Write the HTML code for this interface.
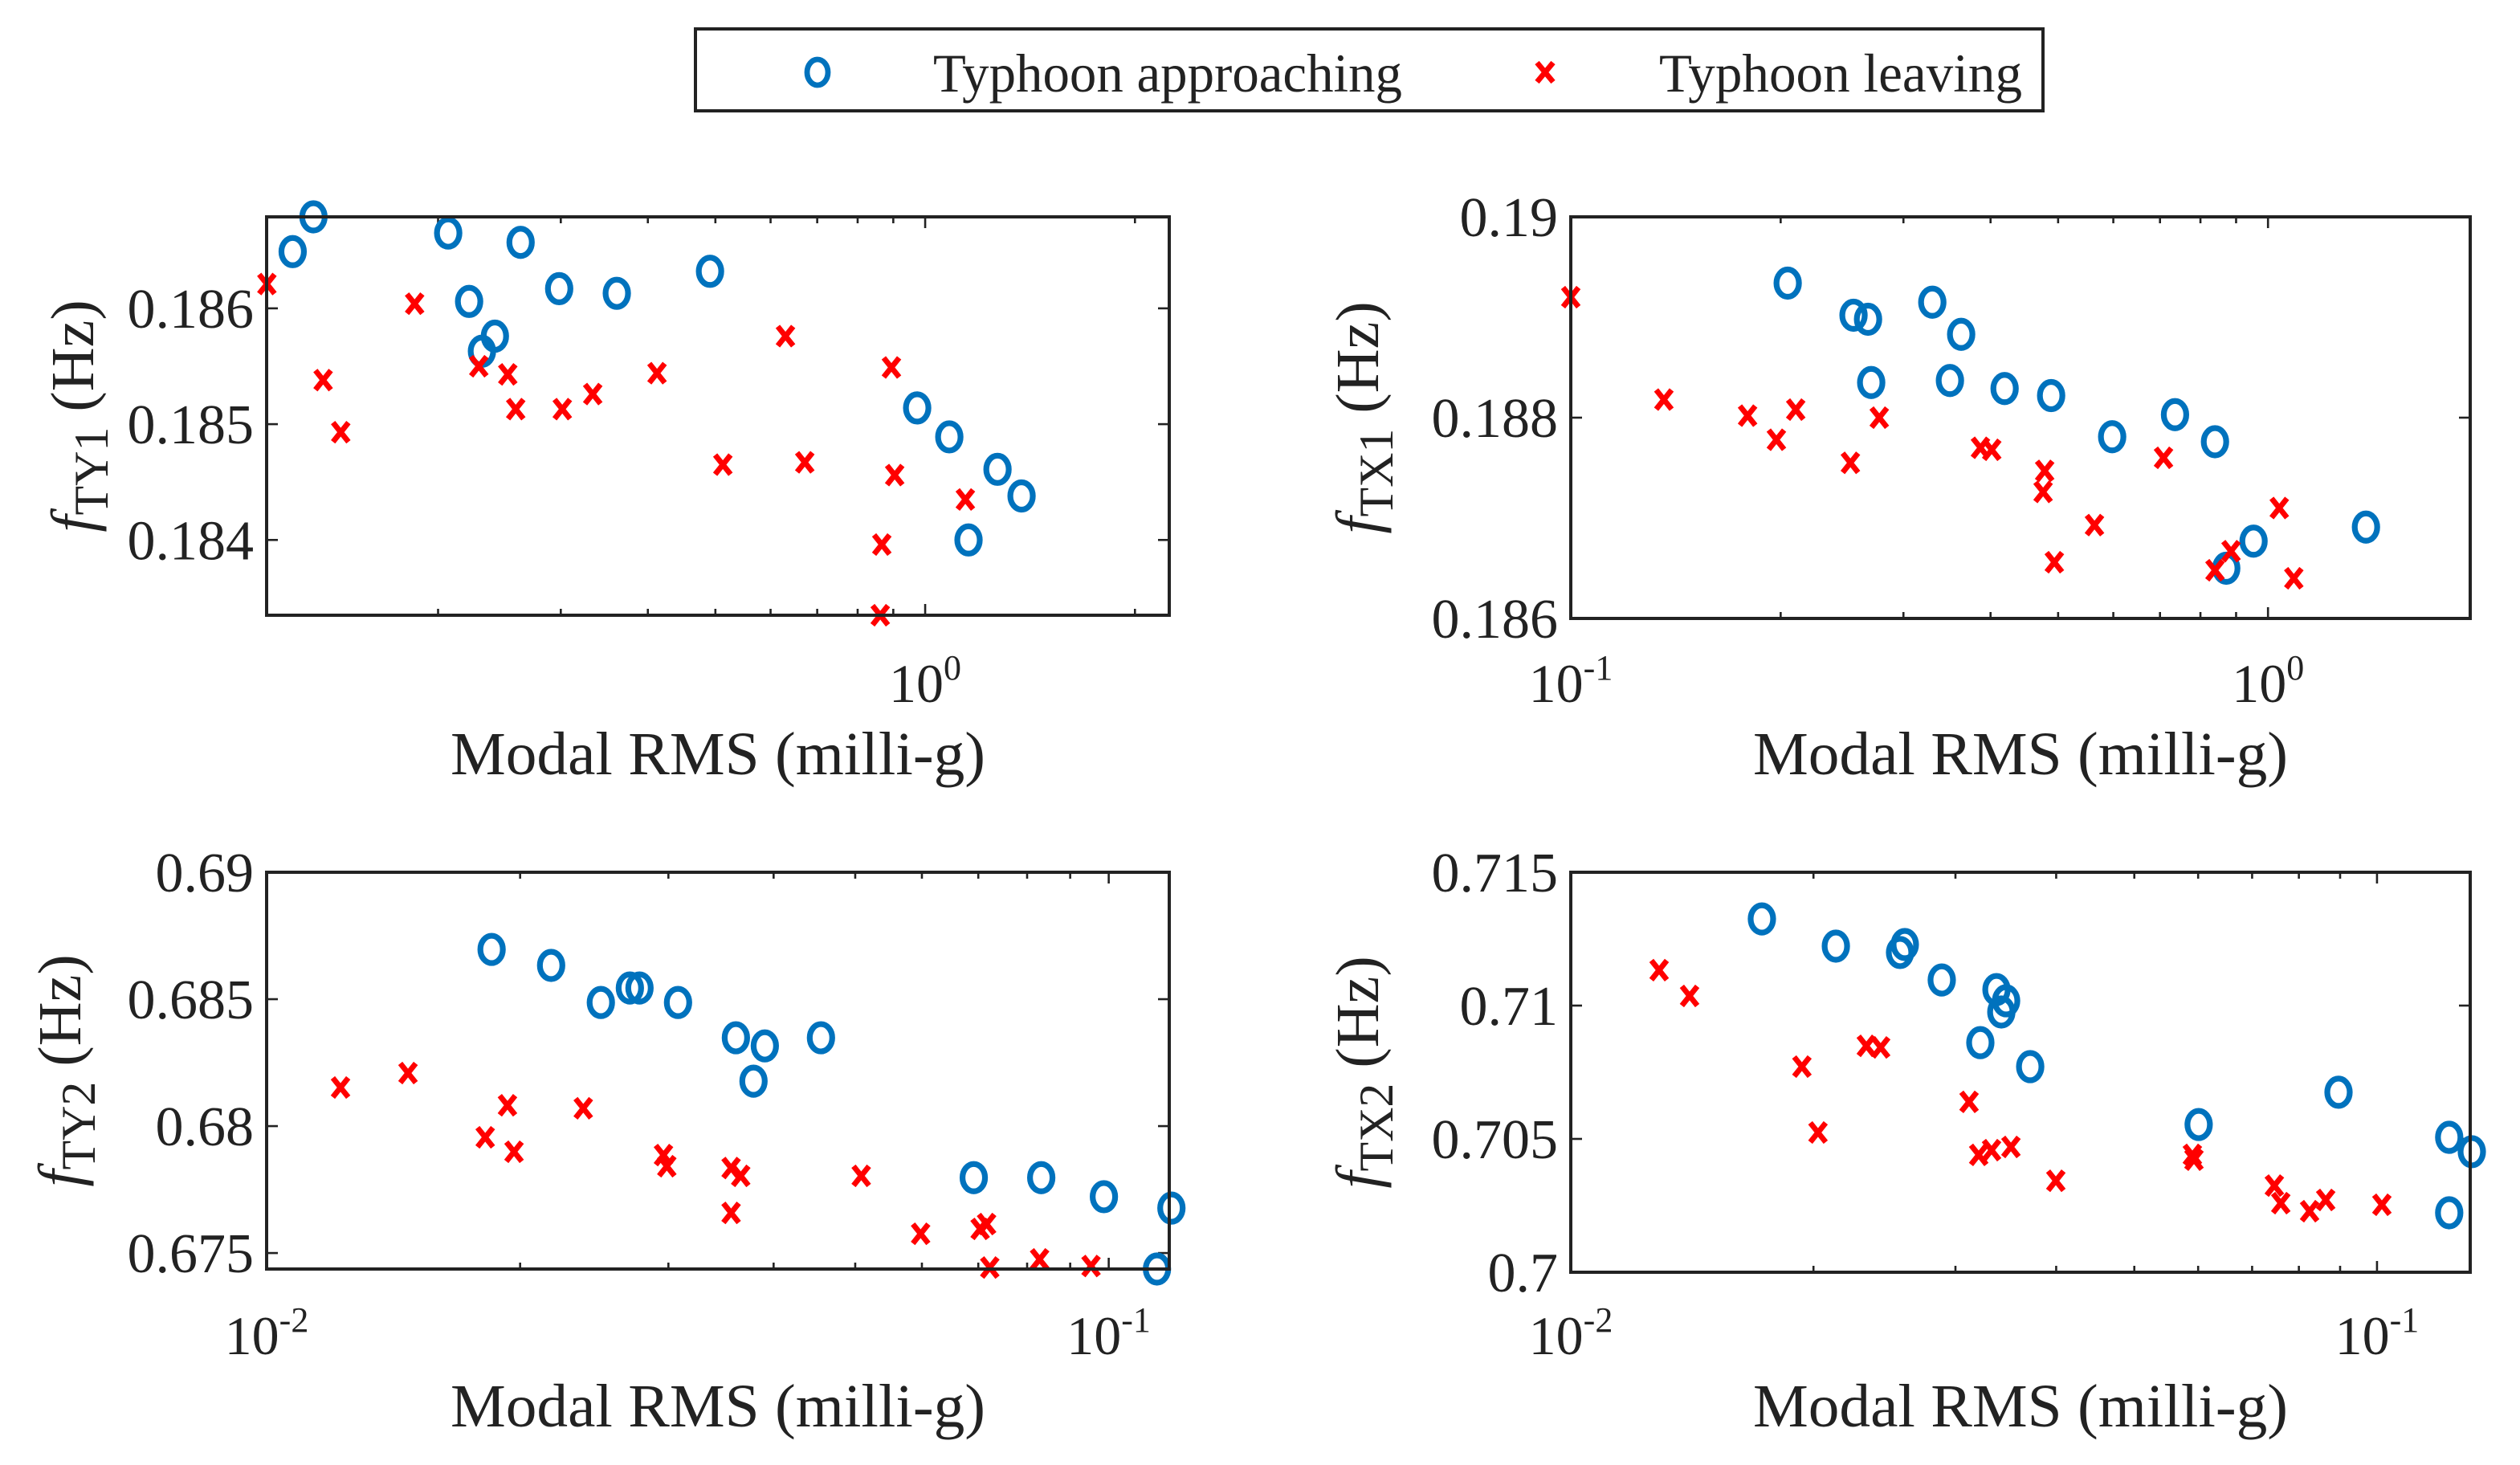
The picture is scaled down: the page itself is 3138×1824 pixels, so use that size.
<!DOCTYPE html>
<html><head><meta charset="utf-8"><style>
html,body{margin:0;padding:0;background:#fff;}
svg{display:block;}
text{font-family:"Liberation Serif",serif;fill:#222;}
</style></head><body>
<svg id="fig" width="3138" height="1824" viewBox="0 0 1569 912" xmlns="http://www.w3.org/2000/svg">
<g>
<rect x="433" y="18" width="839" height="51" fill="#fff" stroke="#222" stroke-width="2"/>
<ellipse cx="509" cy="45" rx="6.5" ry="8" fill="none" stroke="#0072BD" stroke-width="3.4"/>
<text x="581" y="57" font-size="34" textLength="292" lengthAdjust="spacingAndGlyphs">Typhoon approaching</text>
<g stroke="#f00" stroke-width="3.4"><line x1="957" y1="39" x2="967" y2="51"/><line x1="967" y1="39" x2="957" y2="51"/></g>
<text x="1033" y="57" font-size="34" textLength="226" lengthAdjust="spacingAndGlyphs">Typhoon leaving</text>
</g>
</svg>
<script>
// Panel 1 data (f_TY1)
const p1ApprX=[0.1237,0.1325,0.2068,0.2216,0.2312,0.2413,0.2627,0.2984,0.3610,0.4912,0.9739,1.083,1.270,1.375,1.154];
const p1ApprY=[0.18649,0.18679,0.18665,0.18606,0.18563,0.18576,0.18657,0.18617,0.18613,0.18632,0.18514,0.18489,0.18461,0.18438,0.18400];
const p1LeavX=[0.1136,0.1368,0.1450,0.1851,0.2288,0.2518,0.2585,0.3015,0.3334,0.4123,0.5125,0.6303,0.6718,0.8621,0.8945,0.9042,0.8665,1.142];
const p1LeavY=[0.18621,0.18538,0.18493,0.18604,0.18550,0.18543,0.18513,0.18513,0.18526,0.18544,0.18465,0.18576,0.18467,0.18335,0.18549,0.18456,0.18396,0.18435];
const p1YTicks=[0.184,0.185,0.186];
const p1YTickLabels=["0.184","0.185","0.186"];
// Panel 2 data (f_TX1)
const p2ApprX=[0.2047,0.2544,0.2669,0.2697,0.3300,0.3498,0.3630,0.4190,0.4886,0.5977,0.7356,0.8394,0.8712,0.9534,1.382];
const p2ApprY=[0.18934,0.18902,0.18898,0.18835,0.18915,0.18837,0.18883,0.18829,0.18822,0.18781,0.18803,0.18776,0.18650,0.18677,0.18691];
const p2LeavX=[0.1,0.1360,0.1793,0.1972,0.2102,0.2518,0.2770,0.3869,0.4016,0.4783,0.4758,0.4938,0.5638,0.7082,0.8394,0.8851,1.038,1.089];
const p2LeavY=[0.1892,0.18818,0.18802,0.18778,0.18808,0.18755,0.18800,0.18770,0.18768,0.18747,0.18726,0.18656,0.18693,0.18760,0.18648,0.18667,0.18710,0.1864];
const p2YTicks=[0.186,0.188,0.19];
const p2YTickLabels=["0.186","0.188","0.19"];
// Panel 3 data (f_TY2)
const p3ApprX=[0.01850,0.02177,0.02494,0.02700,0.02772,0.03080,0.03608,0.03905,0.03786,0.04553,0.06914,0.08315,0.09869,0.1187,0.1141];
const p3ApprY=[0.68696,0.68633,0.68487,0.68544,0.68544,0.68487,0.68348,0.68316,0.68177,0.68348,0.67797,0.67797,0.67722,0.67677,0.67437];
const p3LeavX=[0.01224,0.01472,0.01818,0.01932,0.01967,0.02377,0.02960,0.02987,0.03561,0.03656,0.03561,0.05083,0.05979,0.07036,0.07161,0.07224,0.08278,0.09528];
const p3LeavY=[0.68152,0.68209,0.67956,0.68082,0.67899,0.68070,0.67886,0.67842,0.67835,0.67804,0.67658,0.67804,0.67576,0.67595,0.67614,0.67443,0.67475,0.67449];
const p3YTicks=[0.675,0.68,0.685,0.69];
const p3YTickLabels=["0.675","0.68","0.685","0.69"];
// Panel 4 data (f_TX2)
const p4ApprX=[0.01726,0.02132,0.02561,0.02596,0.02885,0.03221,0.03373,0.03420,0.03467,0.03714,0.06009,0.08959,0.1229,0.1311,0.1229];
const p4ApprY=[0.71325,0.71223,0.71199,0.71229,0.71096,0.70861,0.71060,0.70976,0.71018,0.70771,0.70554,0.70675,0.70506,0.70452,0.70223];
const p4LeavX=[0.01287,0.01404,0.01935,0.02026,0.02326,0.02423,0.03119,0.03206,0.03326,0.03515,0.03996,0.05902,0.05929,0.07459,0.07597,0.08249,0.08637,0.1014];
const p4LeavY=[0.71133,0.71036,0.70771,0.70524,0.70849,0.70843,0.70639,0.7044,0.70458,0.7047,0.70343,0.7044,0.70422,0.70325,0.70259,0.70229,0.70271,0.70253];
const p4YTicks=[0.7,0.705,0.71,0.715];
const p4YTickLabels=["0.7","0.705","0.71","0.715"];

const NS="http://www.w3.org/2000/svg";
const svg=document.getElementById('fig');
function mk(tag,attrs,parent){const e=document.createElementNS(NS,tag);for(const k in attrs)e.setAttribute(k,attrs[k]);(parent||svg).appendChild(e);return e;}

function panel(cfg){
  const g=mk('g',{});
  
  
  const L=cfg.box[0],T=cfg.box[1],R=cfg.box[2],B=cfg.box[3];
  const lx0=Math.log10(cfg.xmin),lx1=Math.log10(cfg.xmax);
  const sx=v=>L+(Math.log10(v)-lx0)/(lx1-lx0)*(R-L);
  const sy=v=>B-(v-cfg.ymin)/(cfg.ymax-cfg.ymin)*(B-T);
  const bg=mk('rect',{x:L,y:T,width:R-L,height:B-T,fill:'#fff',stroke:'none'},g);
  
  
  const tk=mk('g',{stroke:'#222','stroke-width':1.3},g);
  
  
  for(let d=Math.floor(lx0);d<=Math.ceil(lx1);d++){
    for(let m=1;m<10;m++){
      const v=m*Math.pow(10,d);
      if(v<cfg.xmin*0.999||v>cfg.xmax*1.001)continue;
      const x=sx(v);const len=m===1?7:4;
      mk('line',{x1:x,y1:B,x2:x,y2:B-len},tk);
      mk('line',{x1:x,y1:T,x2:x,y2:T+len},tk);
      if(m===1){
        const t=mk('text',{x:x,y:cfg.xLabY,'font-size':34,'text-anchor':'middle',stroke:'none'},g);
        
        
        const a=mk('tspan',{},t);a.textContent='10';
        const b=mk('tspan',{dy:-14,'font-size':22},t);b.textContent=String(d);
      }
    }
  }
  cfg.yt.forEach((v,i)=>{
    const y=sy(v);
    mk('line',{x1:L,y1:y,x2:L+7,y2:y},tk);
    mk('line',{x1:R,y1:y,x2:R-7,y2:y},tk);
    const t=mk('text',{x:L-8,y:y+12,'font-size':35,'text-anchor':'end'},g);
    
    
    t.textContent=cfg.ytl[i];
  });
  const sa=mk('g',{},g);
  
  
  cfg.ax.forEach((v,i)=>{
    const c=mk('ellipse',{cx:sx(v),cy:sy(cfg.ay[i]),rx:7,ry:8.5,fill:'none',stroke:'#0072BD','stroke-width':3.6},sa);
    
    
  });
  const sl=mk('g',{stroke:'#f00','stroke-width':3.4},g);
  
  
  cfg.lx.forEach((v,i)=>{
    const x=sx(v),y=sy(cfg.ly[i]);
    const p=mk('path',{d:`M${x-4.8},${y-6}L${x+4.8},${y+6}M${x+4.8},${y-6}L${x-4.8},${y+6}`},sl);
    
    
  });
  const fr=mk('rect',{x:L,y:T,width:R-L,height:B-T,fill:'none',stroke:'#222','stroke-width':2},g);
  
  
  const xl=mk('text',{x:(cfg.xLabX),y:cfg.xTitleY,'font-size':38,'text-anchor':'middle',textLength:333,lengthAdjust:'spacingAndGlyphs'},g);
  
  
  xl.textContent='Modal RMS (milli-g)';
  const yl=mk('text',{x:0,y:0,'font-size':38,'text-anchor':'middle',transform:`translate(${cfg.yTitleX},${(T+B)/2}) rotate(-90)`},g);
  
  
  const f=mk('tspan',{'font-style':'italic'},yl);f.textContent='f';
  const s=mk('tspan',{'font-size':30,dy:9},yl);s.textContent=cfg.sub;
  const h=mk('tspan',{dy:-9},yl);h.textContent=' (Hz)';
}

panel({name:'panel-fty1',box:[166,135,728,383],xmin:0.1135,xmax:2.24,ymin:0.18335,ymax:0.18679,yt:p1YTicks,ytl:p1YTickLabels,ax:p1ApprX,ay:p1ApprY,lx:p1LeavX,ly:p1LeavY,xLabY:437,xTitleY:482,xLabX:447,yTitleX:58,sub:'TY1'});
panel({name:'panel-ftx1',box:[978,135,1538,385],xmin:0.1,xmax:1.95,ymin:0.186,ymax:0.19,yt:p2YTicks,ytl:p2YTickLabels,ax:p2ApprX,ay:p2ApprY,lx:p2LeavX,ly:p2LeavY,xLabY:437,xTitleY:482,xLabX:1258,yTitleX:858,sub:'TX1'});
panel({name:'panel-fty2',box:[166,543,728,790],xmin:0.01,xmax:0.118,ymin:0.67437,ymax:0.69,yt:p3YTicks,ytl:p3YTickLabels,ax:p3ApprX,ay:p3ApprY,lx:p3LeavX,ly:p3LeavY,xLabY:843,xTitleY:888,xLabX:447,yTitleX:50,sub:'TY2'});
panel({name:'panel-ftx2',box:[978,543,1538,792],xmin:0.01,xmax:0.1305,ymin:0.7,ymax:0.715,yt:p4YTicks,ytl:p4YTickLabels,ax:p4ApprX,ay:p4ApprY,lx:p4LeavX,ly:p4LeavY,xLabY:843,xTitleY:888,xLabX:1258,yTitleX:858,sub:'TX2'});
</script>
</body></html>
